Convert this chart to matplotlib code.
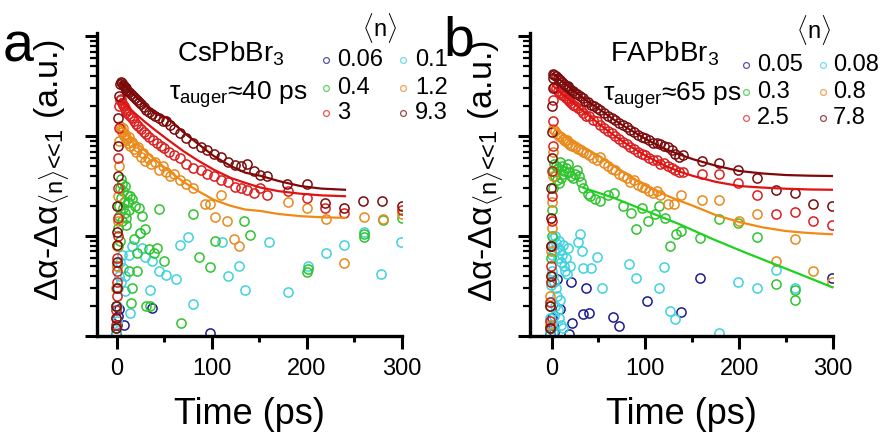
import matplotlib
matplotlib.use('Agg')
import matplotlib.pyplot as plt
from matplotlib.lines import Line2D
from matplotlib.ticker import LogLocator, NullFormatter

plt.rcParams['font.family'] = ['Liberation Sans', 'DejaVu Sans']
plt.rcParams['mathtext.fontset'] = 'custom'
plt.rcParams['mathtext.rm'] = 'Liberation Sans'
plt.rcParams['mathtext.it'] = 'Liberation Sans'
plt.rcParams['mathtext.bf'] = 'Liberation Sans:bold'

# ---------------- CsPbBr3, transient absorption vs time ----------------
cs_n006_t = [-1, 0, 1, 2, 7.7, 36.8, 98]
cs_n006_y = [1.05, 1.3, 1.6, 1.85, 1.28, 1.92, 1.08]

cs_n01_t = [-1, 0, 0.5, 1, 2, 3, 4, 5, 6, 8.1, 8.8, 12.3, 14, 15.8, 24.6, 26.3,
            29.8, 34.4, 36.8, 43.9, 51.6, 62, 66.7, 74.7, 79.6, 110.5, 116.8,
            128.8, 135, 159.6, 179.6, 200.7, 220, 239, 260, 278, 299]
cs_n01_y = [1.1, 1.4, 2.0, 3.0, 4.0, 5.5, 3.5, 6.5, 4.8, 2.8, 4.0, 6.5, 1.7, 7.9,
            10.8, 7.6, 6.1, 2.86, 5.6, 4.5, 4.1, 3.74, 8.1, 9.8, 2.1, 8.8, 4.0,
            5.0, 2.9, 8.7, 2.75, 5.0, 6.8, 8.1, 11.0, 4.2, 8.7]

cs_n04_t = [-1, -0.5, 0, 0.5, 1, 1.5, 2, 3, 4, 5, 6, 2, 3, 4, 5, 6, 7, 8, 9, 10,
            11, 12, 13, 8.8, 12.3, 14, 15, 15.8, 15.8, 17.5, 19.3, 21, 21, 22.8,
            24.6, 26.3, 29.8, 30.5, 33.3, 34.4, 38.6, 42, 44.6, 49, 67.7, 80,
            86, 98, 103.5, 134, 140, 200, 200.7, 260, 260, 280, 300]
cs_n04_y = [1.2, 2.0, 3.0, 5.0, 8.0, 12, 20, 30, 37, 33, 28, 16, 9, 24, 14, 19,
            22, 17, 15, 13, 26, 22, 18, 31.6, 4.5, 25, 2.15, 23.3, 3.0, 9.3, 20,
            6.8, 4.5, 19.2, 10.8, 15.8, 11.7, 2.0, 7.4, 2.0, 6.8, 7.6, 18.8,
            5.6, 1.36, 16.6, 6.2, 4.9, 9.0, 14.2, 10.2, 4.4, 4.7, 10.4, 9.8,
            14.5, 15.0]

cs_n12_t = [-1, -0.5, 0, 0.5, 1, 1.5, 2, 2.5, 3, 4, 5, 6, 7, 8, 9, 10, 12, 13,
            14, 16, 18, 20, 22, 25, 27, 30, 33, 36, 40, 44, 48, 52, 56, 60, 66,
            73, 80, 93, 97.5, 103.5, 110, 116, 123, 128, 180, 200, 220, 239,
            260, 280, 300]
cs_n12_y = [1.5, 3, 5, 8, 14, 25, 50, 90, 126, 118, 110, 120, 100, 105, 95, 92,
            85, 98, 80, 88, 75, 70, 78, 62, 68, 56, 60, 52, 55, 46, 50, 44, 40,
            42, 36, 33, 30, 21, 21, 15.5, 25.7, 14.1, 9.3, 7.9, 21.8, 19.2,
            14.7, 5.4, 15.6, 14.7, 16.5]

cs_n3_t = [-1, -0.5, 0, 0, 0.5, 0.5, 1, 1, 1.5, 1.5, 2, 2.5, 3, 4, 5, 6, 7, 8,
           9, 10, 12, 14, 16, 18, 20, 22, 25, 28, 31, 34, 38, 42, 46, 50, 55,
           60, 66, 73, 80, 88, 95, 102, 110, 117, 124, 131, 137, 144, 151, 158,
           180, 200, 219, 239, 300]
cs_n3_y = [1.3, 1.8, 2.5, 3.5, 4.5, 6, 10, 15, 30, 60, 120, 200, 228, 232, 215,
           205, 200, 190, 180, 175, 165, 158, 150, 140, 132, 125, 118, 110, 105,
           98, 92, 86, 80, 76, 70, 65, 60, 53, 48, 46, 42, 40, 36, 35, 31, 30,
           29, 27, 30, 26, 28, 24.2, 19, 17, 18]

cs_n93_t = [-1, -0.5, -0.5, 0, 0, 0, 0.5, 0.5, 1, 1, 1.5, 2, 3, 4, 5, 6, 7, 8,
            9, 10, 11, 13, 15, 17, 19, 21, 23, 25, 28, 31, 34, 37, 40, 44, 48,
            52, 56, 60, 66, 73, 80, 88, 95, 102, 110, 117, 124, 131, 137, 144,
            151, 158, 179, 200, 219, 239, 259, 279, 300]
cs_n93_y = [1.2, 1.5, 2.0, 3.0, 5.5, 8.2, 11, 20, 40, 80, 150, 250, 330, 345,
            340, 325, 320, 310, 300, 290, 285, 275, 262, 250, 240, 228, 218, 208,
            196, 182, 172, 165, 158, 150, 142, 140, 128, 118, 108, 96, 86, 78,
            72, 66, 62, 55, 51, 50, 52, 45, 41, 40, 33, 33, 21.5, 19, 22.4, 22.4,
            19.8]

# fitted decays (CsPbBr3)
cs_fit_t = [4, 10, 20, 30, 40, 53, 70, 85, 102, 120, 135, 151, 170, 193, 215, 240]
cs_fit93_y = [341, 302, 247, 203, 168, 152, 109, 84, 63, 50, 43, 40, 35.5, 31.6, 29.8, 29]
cs_fit3_y = [233, 202, 165, 137, 115, 92.6, 70.5, 57, 46, 38, 34, 30.5, 28.1, 26.5, 25.5, 25]
cs_fit12_y = [126, 108, 87, 70.5, 58, 46, 34.8, 28.3, 23, 20, 18.4, 17.8, 16.6, 15.8, 15.4, 15.2]

# ---------------- FAPbBr3 ----------------
fa_n005_t = [-2, -1, 0, 1, 3, 5.3, 9, 19, 21, 22, 33.7, 37, 40, 66, 72, 102,
             138, 158.5, 299]
fa_n005_y = [1.05, 1.2, 1.5, 1.3, 1.1, 3.7, 1.85, 1.05, 3.46, 1.36, 1.65, 3.04,
             1.71, 1.56, 1.26, 2.24, 1.74, 3.83, 3.83]

fa_n008_t = [-2, -1.5, -1, -0.5, 0, 0.5, 1, 2, 3, 4, 5, 6, 7, 8, 9, 10, 11, 12,
             13, 14, 2, 3, 5, 6, 4, 7, 8, 10, 12, 1, 3, 9, 15, 16, 18, 20, 27.7,
             30, 32, 33.7, 42, 48, 54, 83, 90, 114, 120, 126, 132, 179, 199, 219,
             239, 259]
fa_n008_y = [1.1, 1.5, 2.2, 3.2, 4.5, 6.5, 9.5, 8, 7, 10, 8.5, 7.5, 6, 9, 7.2,
             5.5, 6.5, 8.2, 5, 4.5, 4, 3.5, 3, 2.5, 2, 1.8, 1.5, 1.3, 1.2, 1.1,
             1.6, 2.3, 6, 4.2, 7.5, 5, 8.8, 10.4, 7.1, 4.8, 4.8, 6.2, 3.0, 5.2,
             3.8, 3.0, 4.9, 1.78, 1.47, 1.08, 3.5, 3.0, 4.6, 3.0]

fa_n03_t = [-2, -1.5, -1, -0.5, 0, 0.5, 1, 1.5, 3, 5, 7, 9, 11, 13, 15, 17, 19,
            21, 23, 25, 27, 29, 31, 2, 4, 6, 8, 10, 12, 33.7, 39, 40.8, 46, 51.4,
            60, 67, 76, 85, 90, 96, 103, 110, 115, 120.6, 126, 133, 138, 158,
            179, 199, 219, 239, 259, 259]
fa_n03_y = [1.2, 2, 3.5, 6, 10, 18, 30, 45, 52, 50, 48, 55, 50, 45, 48, 52, 44,
            40, 38, 42, 46, 40, 35, 45, 40, 36, 34, 38, 42, 30.4, 26.1, 25.1,
            23.3, 22.4, 26, 27, 20, 17.1, 11.7, 19.2, 14.1, 16.5, 20, 15.2, 7.9,
            10.4, 11.2, 9.6, 14.7, 13.6, 9.8, 3.3, 2.9, 2.3]

fa_n08_t = [-2, -1.5, -1, -0.5, 0, 0.5, 1, 1.5, 2, 4, 6, 8, 10, 12, 14, 16, 18,
            20, 22, 25, 28, 31, 34, 37, 40, 44, 48, 52, 56, 60, 64, 68, 72, 76,
            80, 84, 88, 92, 96, 100, 104, 108, 112, 116, 124, 130, 138, 160,
            179, 200, 219, 239, 259, 279, 299]
fa_n08_y = [1.3, 2.5, 4, 7, 12, 22, 40, 70, 118, 112, 105, 100, 98, 94, 90, 92,
            86, 82, 80, 78, 75, 72, 70, 68, 64, 60, 58, 62, 54, 50, 47, 46, 42,
            40, 38, 35, 36, 32, 31, 30, 28, 27, 28, 26, 20.7, 20.7, 25.7, 22.9,
            22.9, 14.1, 16.5, 5.6, 9.3, 4.5, 3.5]

fa_n25_t = [-2, -1.5, -1, -1, -0.5, 0, 0, 0.5, 1, 1, 1.5, 3, 5, 7, 9, 11, 13,
            15, 17, 19, 21, 23, 25, 28, 31, 34, 37, 40, 44, 48, 52, 56, 60, 64,
            68, 72, 76, 80, 84, 88, 92, 96, 100, 104, 108, 112, 116, 120, 124,
            128, 132, 136, 140, 160, 179, 199, 219, 239, 259, 279, 299]
fa_n25_y = [1.4, 2.2, 3.5, 5, 8, 14, 25, 45, 80, 140, 230, 310, 300, 285, 270,
            260, 250, 240, 232, 225, 215, 205, 200, 190, 180, 170, 160, 158, 145,
            140, 128, 120, 112, 108, 100, 94, 88, 84, 78, 75, 70, 66, 65, 60, 58,
            57, 52, 54, 50, 48, 46, 44, 44, 41.5, 41.5, 34, 26, 16.5, 17.5, 14,
            13]

fa_n78_t = [-2, -1.5, -1, -1, -0.5, -0.5, 0, 0, 0.5, 1, 1.5, 2, 3, 5, 7, 9, 11,
            13, 15, 17, 19, 21, 23, 25, 27, 30, 33, 36, 39, 42, 45, 48, 52, 56,
            60, 64, 68, 72, 76, 80, 84, 88, 92, 96, 100, 104, 108, 112, 116, 120,
            124, 128, 132, 136, 140, 160, 179, 199, 219, 239, 259, 279, 299]
fa_n78_y = [1.2, 2, 4, 8, 15, 30, 60, 110, 200, 300, 380, 414, 410, 400, 380,
            365, 350, 335, 320, 315, 300, 290, 280, 268, 262, 250, 240, 225, 220,
            205, 200, 190, 182, 170, 160, 150, 145, 135, 128, 122, 115, 110, 102,
            98, 95, 92, 86, 85, 84, 80, 78, 72, 66, 62, 64, 56, 54, 46, 38, 29,
            27, 21, 20]

# fitted decays (FAPbBr3)
fa_fit_t = [2, 10, 20, 30, 40, 51, 65, 80, 101, 120, 135, 151, 175, 200, 225,
            250, 275, 300]
fa_fit78_y = [414, 360, 302, 255, 216, 185, 149, 121, 92.6, 75, 66, 58.5, 50.5,
              44.7, 42.2, 40.7, 40.1, 39.8]
fa_fit25_y = [316, 271, 227, 190, 160, 131, 104, 83, 63, 51, 44.5, 39.8, 34.8,
              31.6, 30.5, 29.7, 29.2, 29]
fa_fit08_y = [121, 108, 94, 82, 71.5, 63, 51, 41.6, 31.6, 26, 22.8, 20, 16.2,
              13.8, 12.2, 11.2, 10.7, 10.4]
fa_fit03_t = [33.7, 65.6, 101, 136.5, 172, 207, 243, 278, 300]
fa_fit03_y = [30.4, 24.2, 17.8, 13.1, 9.3, 6.8, 5.0, 3.7, 3.05]

NAVY = '#1c1c8e'
CYAN = '#3fd3df'
GREEN = '#2fc42f'
ORANGE = '#e88a1c'
RED = '#dc1f1f'
MAROON = '#7a0c0c'

LINE_GREEN = '#1fd21f'
LINE_ORANGE = '#f08a14'
LINE_RED = '#e01212'
LINE_MAROON = '#800808'

W, H = 880.0, 437.0


def scatter(ax, t, y, color):
    ax.plot(t, y, 'o', mfc='none', mec=color, ms=6.6, mew=1.1, ls='none')


def style_axes(ax, xmin):
    ax.set_yscale('log')
    ax.set_ylim(1, 1072)
    ax.set_xlim(xmin, 300)
    for side in ('top', 'right'):
        ax.spines[side].set_visible(False)
    for side in ('left', 'bottom'):
        ax.spines[side].set_linewidth(2.4)
    ax.set_xticks([0, 100, 200, 300])
    ax.set_xticks([50, 150, 250], minor=True)
    ax.yaxis.set_major_locator(LogLocator(base=10, numticks=10))
    ax.yaxis.set_minor_locator(LogLocator(base=10, subs=range(2, 10), numticks=20))
    ax.yaxis.set_major_formatter(NullFormatter())
    ax.yaxis.set_minor_formatter(NullFormatter())
    ax.tick_params(axis='x', which='major', direction='out', length=9, width=2.2,
                   labelsize=17, pad=7)
    ax.tick_params(axis='x', which='minor', direction='out', length=4, width=2.2)
    ax.tick_params(axis='y', which='major', direction='out', length=9, width=2.2)
    ax.tick_params(axis='y', which='minor', direction='out', length=5, width=1.6)
    ax.set_xlabel('Time (ps)', fontsize=26, labelpad=12)


def legend_block(fig, cols, rows, head, entries):
    # cols: ((marker x, text x), (marker x, text x)) in pixels
    fig.text(head[0] / W, 1 - head[1] / H, r'$\langle$n$\rangle$', fontsize=17,
             ha='center', va='center')
    for col, row, color, label in entries:
        mx, tx = cols[col]
        my = rows[row]
        fig.add_artist(Line2D([mx / W], [1 - my / H], marker='o', mfc='none',
                              mec=color, ms=4.2, mew=0.9, alpha=0.75,
                              transform=fig.transFigure))
        fig.text(tx / W, 1 - my / H, label, fontsize=17, ha='left',
                 va='center')


fig = plt.figure(figsize=(8.8, 4.37), dpi=100)
ax1 = fig.add_axes([97 / W, 1 - 336 / H, 305 / W, 303 / H])
ax2 = fig.add_axes([530 / W, 1 - 336 / H, 303 / W, 303 / H])

# panel a
scatter(ax1, cs_n006_t, cs_n006_y, NAVY)
scatter(ax1, cs_n01_t, cs_n01_y, CYAN)
scatter(ax1, cs_n04_t, cs_n04_y, GREEN)
scatter(ax1, cs_n12_t, cs_n12_y, ORANGE)
scatter(ax1, cs_n3_t, cs_n3_y, RED)
scatter(ax1, cs_n93_t, cs_n93_y, MAROON)
ax1.plot(cs_fit_t, cs_fit12_y, color=LINE_ORANGE, lw=1.6)
ax1.plot(cs_fit_t, cs_fit3_y, color=LINE_RED, lw=1.6)
ax1.plot(cs_fit_t, cs_fit93_y, color=LINE_MAROON, lw=1.6)
style_axes(ax1, -21)

# panel b
scatter(ax2, fa_n005_t, fa_n005_y, NAVY)
scatter(ax2, fa_n008_t, fa_n008_y, CYAN)
scatter(ax2, fa_n03_t, fa_n03_y, GREEN)
scatter(ax2, fa_n08_t, fa_n08_y, ORANGE)
scatter(ax2, fa_n25_t, fa_n25_y, RED)
scatter(ax2, fa_n78_t, fa_n78_y, MAROON)
ax2.plot(fa_fit03_t, fa_fit03_y, color=LINE_GREEN, lw=1.6)
ax2.plot(fa_fit_t, fa_fit08_y, color=LINE_ORANGE, lw=1.6)
ax2.plot(fa_fit_t, fa_fit25_y, color=LINE_RED, lw=1.6)
ax2.plot(fa_fit_t, fa_fit78_y, color=LINE_MAROON, lw=1.6)
style_axes(ax2, -23)

ylab = (r'$\Delta\alpha$-$\Delta\alpha_{\langle \mathrm{n}\rangle\!<\!\!\!<\!1}$'
        ' (a.u.)')
fig.text(52 / W, 1 - 170 / H, ylab, rotation=90, fontsize=24.5,
         ha='center', va='center')
fig.text(486 / W, 1 - 171 / H, ylab, rotation=90, fontsize=24.5,
         ha='center', va='center')

fig.text(3 / W, 1 - 61 / H, 'a', fontsize=40, ha='left', va='baseline')
fig.text(443 / W, 1 - 56 / H, 'b', fontsize=40, ha='left', va='baseline')

# sample names and Auger lifetimes
fig.text(177 / W, 1 - 61 / H, r'CsPbBr$_3$', fontsize=20, va='baseline')
fig.text(169 / W, 1 - 100 / H, r'$\tau_{\mathrm{auger}}$≈40 ps', fontsize=19,
         va='baseline')
fig.text(610 / W, 1 - 62 / H, r'FAPbBr$_3$', fontsize=20, va='baseline')
fig.text(603 / W, 1 - 101 / H, r'$\tau_{\mathrm{auger}}$≈65 ps', fontsize=19,
         va='baseline')

legend_block(fig, ((326, 337), (403, 415)), [60, 88, 113], (380, 28),
             [(0, 0, NAVY, '0.06'), (1, 0, CYAN, '0.1'),
              (0, 1, GREEN, '0.4'), (1, 1, ORANGE, '1.2'),
              (0, 2, RED, '3'), (1, 2, MAROON, '9.3')])
legend_block(fig, ((746, 757), (823, 833)), [65, 92, 118], (814, 30),
             [(0, 0, NAVY, '0.05'), (1, 0, CYAN, '0.08'),
              (0, 1, GREEN, '0.3'), (1, 1, ORANGE, '0.8'),
              (0, 2, RED, '2.5'), (1, 2, MAROON, '7.8')])

fig.savefig('out.png', dpi=100)
